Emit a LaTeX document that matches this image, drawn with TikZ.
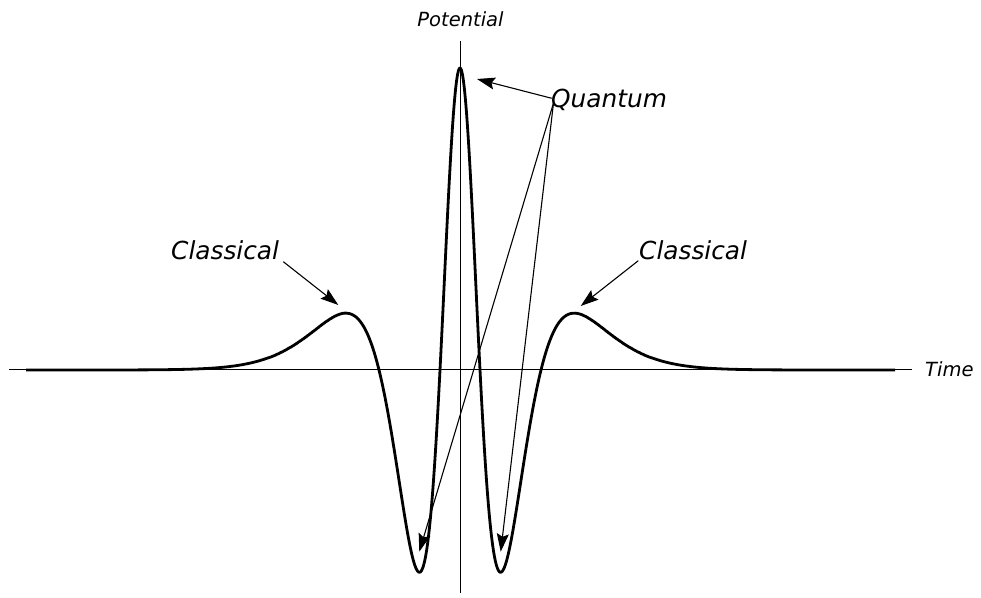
\documentclass[tikz,border=0pt]{standalone}
\usepackage{fontspec}
\setmainfont{DejaVu Sans}
\usetikzlibrary{arrows.meta}
\begin{document}
\begin{tikzpicture}[x=1pt,y=1pt,
  declare function={
    sh(\u)=exp(0.7065*(0.693147-abs(\u)/26.5-ln(1+exp(-2*abs(\u)/26.5))));
    wave(\u)=302*((1-(\u/20)*(\u/20))*sh(\u))*((1-(\u/81)*(\u/81))*sh(\u));
  },
  axisline/.style={line width=1pt,black},
  curveline/.style={line width=2.8pt,black,line join=round},
  pointer/.style={line width=1.1pt,-{Stealth[length=18pt,width=12pt,inset=3pt]}},
  biglabel/.style={font=\fontsize{24.8}{30}\selectfont\itshape,inner sep=0pt,anchor=base west},
  smalllabel/.style={font=\fontsize{19.5}{24}\selectfont\itshape,inner sep=0pt}]
\useasboundingbox (0,0) rectangle (981,597);
% axes
\coordinate (xl) at (9,227);
\coordinate (xr) at (912,227);
\coordinate (yb) at (460,4);
\coordinate (yt) at (460,556);
\draw[axisline] (xl) -- (xr);
\draw[axisline] (yb) -- (yt);
% curve
\draw[curveline] plot[domain=-434:435,samples=871] ({460+\x},{227+wave(\x)});
% labels
\node[smalllabel,anchor=base] (pot) at (460.5,570) {Potential};
\node[smalllabel,anchor=base west] (time) at (925,220) {Time};
\node[biglabel] (quant) at (551,489) {Quantum};
\node[biglabel] (clL) at (171,337) {Classical};
\node[biglabel] (clR) at (639,337) {Classical};
% arrow ends
\coordinate (qa) at (551.7,498.7);
\coordinate (qb) at (553.5,494);
\coordinate (peak) at (477,518);
\coordinate (minL) at (419.3,45.3);
\coordinate (minR) at (500.7,45.3);
\coordinate (cLs) at (283.3,335.3);
\coordinate (cLt) at (338.3,292);
\coordinate (cRs) at (638.3,336.3);
\coordinate (cRt) at (580.7,291);
\draw[pointer] (qa) -- (peak);
\draw[pointer] (qb) -- (minL);
\draw[pointer] (qb) -- (minR);
\draw[pointer] (cLs) -- (cLt);
\draw[pointer] (cRs) -- (cRt);
\end{tikzpicture}
\end{document}
